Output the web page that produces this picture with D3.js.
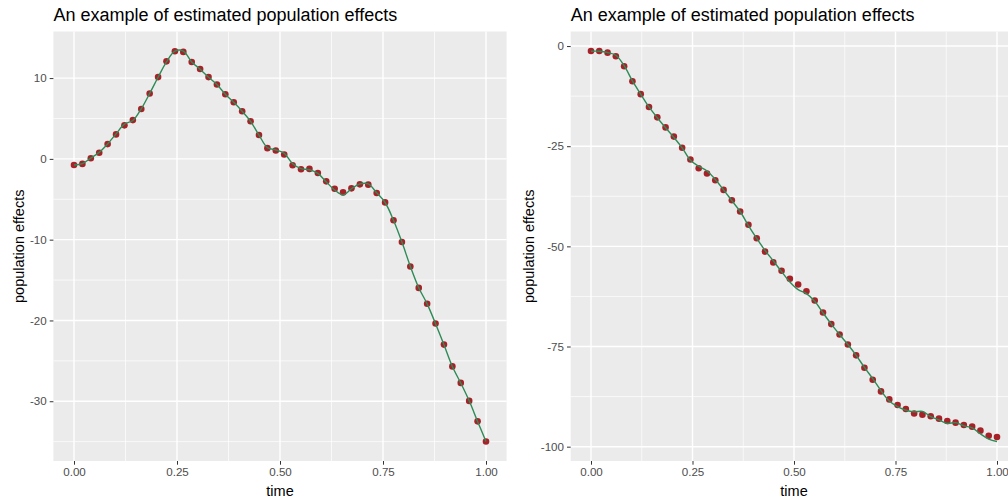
<!DOCTYPE html>
<html>
<head>
<meta charset="utf-8">
<script src="https://cdn.jsdelivr.net/npm/d3@7"></script>
<style>
  html, body { margin: 0; padding: 0; background: #ffffff; }
  svg { display: block; }
  text { font-family: "Liberation Sans", Arial, Helvetica, sans-serif; }
</style>
</head>
<body>
<svg id="chart" width="1008" height="501"></svg>
<script>
// ---------- data ----------
const chartTitle = "An example of estimated population effects";
const xLabel = "time";
const yLabel = "population effects";

// 50 time points, 0 .. 1 (step 1/49)
const nPoints = 50;
const time = d3.range(nPoints).map(i => i / (nPoints - 1));

// Left panel: estimated points and fitted curve
const leftPoints = [-0.75, -0.62, 0.08, 0.75, 1.83, 3.03, 4.15, 4.8, 6.18, 8.09,
  10.12, 12.07, 13.32, 13.24, 12.0, 11.12, 10.12, 9.21, 8.0, 7.01,
  5.89, 4.65, 2.95, 1.33, 1.03, 0.54, -0.79, -1.28, -1.24, -1.74,
  -2.78, -3.69, -4.15, -3.65, -3.15, -3.19, -4.23, -5.39, -7.59, -10.29,
  -13.32, -15.97, -17.93, -20.38, -22.99, -25.69, -27.73, -29.96, -32.49, -34.98];
const leftFit = [-0.75, -0.58, 0.1, 0.8, 1.85, 3.1, 4.3, 4.75, 6.2, 8.1,
  10.1, 12.0, 13.35, 13.35, 12.0, 11.1, 10.1, 9.2, 8.0, 7.0,
  5.9, 4.65, 2.95, 1.4, 1.1, 0.7, -0.6, -1.2, -1.35, -1.8,
  -2.85, -3.85, -4.45, -3.7, -3.1, -3.1, -4.2, -5.4, -7.6, -10.3,
  -13.3, -15.95, -17.95, -20.4, -23.0, -25.7, -27.75, -29.95, -32.5, -34.98];

// Right panel: estimated points and fitted curve
const rightPoints = [-1.24, -1.24, -1.65, -2.56, -5.05, -8.79, -12.0, -15.2, -17.8, -20.3,
  -22.6, -25.4, -28.3, -30.5, -31.8, -33.5, -35.9, -38.5, -41.3, -44.6,
  -47.96, -51.3, -54.0, -56.1, -58.1, -59.5, -61.2, -63.5, -66.5, -69.4,
  -72.0, -74.5, -77.2, -80.3, -83.3, -86.2, -88.2, -89.6, -90.6, -91.7,
  -92.0, -92.4, -93.0, -93.6, -94.0, -94.6, -95.0, -96.0, -97.3, -97.6];
const rightFit = [-1.3, -1.3, -1.6, -2.3, -4.9, -8.7, -12.0, -15.2, -17.9, -20.4,
  -22.8, -25.4, -28.5, -30.0, -31.2, -33.3, -35.9, -38.6, -41.3, -44.8,
  -48.0, -51.0, -53.6, -56.3, -58.9, -60.8, -61.8, -63.7, -66.6, -69.4,
  -72.0, -74.5, -77.2, -80.2, -83.0, -86.0, -88.6, -90.0, -90.9, -91.3,
  -91.2, -92.5, -93.3, -94.2, -94.0, -94.8, -95.3, -96.8, -98.1, -98.7];

const xTicks = [0, 0.25, 0.5, 0.75, 1.0];
const xMinor = [0.125, 0.375, 0.625, 0.875];
const leftYTicks = [10, 0, -10, -20, -30];
const leftYMinor = [5, -5, -15, -25, -35];
const rightYTicks = [0, -25, -50, -75, -100];
const rightYMinor = [-12.5, -37.5, -62.5, -87.5];

// ---------- layout ----------
const svg = d3.select("#chart");
const panels = [
  { x0: 53.4, x1: 506.6, y0: 31.5, y1: 461, pts: leftPoints, fit: leftFit,
    yTicks: leftYTicks, yMinor: leftYMinor, yTitleX: 18.5 },
  { x0: 570.7, x1: 1017.3, y0: 31.5, y1: 461, pts: rightPoints, fit: rightFit,
    yTicks: rightYTicks, yMinor: rightYMinor, yTitleX: 528.5 }
];

const tickFmt = d3.format(".2f");

panels.forEach(p => {
  const g = svg.append("g");
  const x = d3.scaleLinear().domain([-0.05, 1.05]).range([p.x0, p.x1]);
  const all = p.pts.concat(p.fit);
  const lo = d3.min(all), hi = d3.max(all), span = hi - lo;
  const y = d3.scaleLinear().domain([lo - 0.05 * span, hi + 0.05 * span]).range([p.y1, p.y0]);

  // panel background
  g.append("rect").attr("x", p.x0).attr("y", p.y0)
    .attr("width", p.x1 - p.x0).attr("height", p.y1 - p.y0).attr("fill", "#EBEBEB");

  // minor grid
  g.selectAll(".vminor").data(xMinor).join("line")
    .attr("x1", d => x(d)).attr("x2", d => x(d)).attr("y1", p.y0).attr("y2", p.y1)
    .attr("stroke", "#ffffff").attr("stroke-width", 0.7);
  g.selectAll(".hminor").data(p.yMinor.filter(v => y(v) >= p.y0 && y(v) <= p.y1)).join("line")
    .attr("x1", p.x0).attr("x2", p.x1).attr("y1", d => y(d)).attr("y2", d => y(d))
    .attr("stroke", "#ffffff").attr("stroke-width", 0.7);
  // major grid
  g.selectAll(".vmajor").data(xTicks).join("line")
    .attr("x1", d => x(d)).attr("x2", d => x(d)).attr("y1", p.y0).attr("y2", p.y1)
    .attr("stroke", "#ffffff").attr("stroke-width", 1.4);
  g.selectAll(".hmajor").data(p.yTicks).join("line")
    .attr("x1", p.x0).attr("x2", p.x1).attr("y1", d => y(d)).attr("y2", d => y(d))
    .attr("stroke", "#ffffff").attr("stroke-width", 1.4);

  // axes
  const xAxis = d3.axisBottom(x).tickValues(xTicks).tickFormat(tickFmt).tickSize(3.7).tickPadding(3);
  const gx = g.append("g").attr("transform", `translate(0,${p.y1})`).call(xAxis);
  const yAxis = d3.axisLeft(y).tickValues(p.yTicks).tickFormat(d => d).tickSize(3.7).tickPadding(3);
  const gy = g.append("g").attr("transform", `translate(${p.x0},0)`).call(yAxis);
  [gx, gy].forEach(a => {
    a.select(".domain").remove();
    a.selectAll(".tick line").attr("stroke", "#333333").attr("stroke-width", 1);
    a.selectAll(".tick text").attr("fill", "#4D4D4D").style("font-size", "11.6px")
      .style("font-family", '"Liberation Sans", Arial, sans-serif');
  });

  // data: points then fitted line
  g.selectAll(".pt").data(p.pts).join("circle")
    .attr("cx", (d, i) => x(time[i])).attr("cy", d => y(d)).attr("r", 3.3)
    .attr("fill", "#A3161D").attr("fill-opacity", 0.95);
  const line = d3.line().x((d, i) => x(time[i])).y(d => y(d)).curve(d3.curveCatmullRom.alpha(0.5));
  g.append("path").datum(p.fit).attr("d", line)
    .attr("fill", "none").attr("stroke", "#2E8B57").attr("stroke-width", 1.4);

  // titles
  g.append("text").attr("x", p.x0).attr("y", 21).text(chartTitle)
    .attr("fill", "#000000").style("font-size", "18px");
  g.append("text").attr("x", (p.x0 + p.x1) / 2).attr("y", 496).attr("text-anchor", "middle")
    .text(xLabel).attr("fill", "#000000").style("font-size", "14.5px");
  g.append("text").attr("transform", `translate(${p.yTitleX},${(p.y0 + p.y1) / 2}) rotate(-90)`)
    .attr("text-anchor", "middle").attr("dy", "0.35em")
    .text(yLabel).attr("fill", "#000000").style("font-size", "14.5px");
});
</script>
</body>
</html>
